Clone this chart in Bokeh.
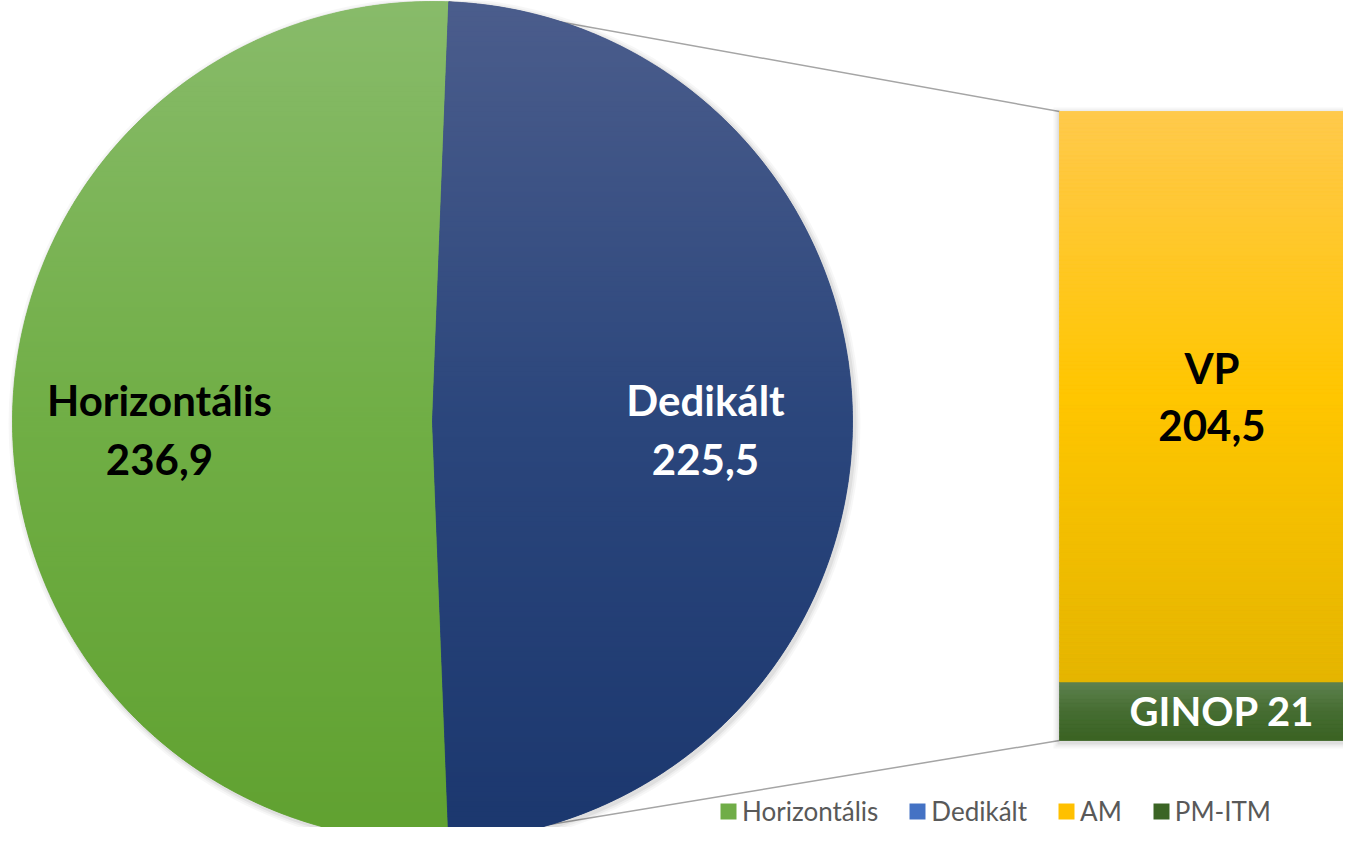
import numpy as np
from bokeh.plotting import figure
from bokeh.models import Range1d, Legend, LegendItem
from bokeh.core.properties import value
from bokeh.embed import file_html
from bokeh.resources import INLINE

# ---------------- data ----------------
pie_labels = ["Horizontális", "Dedikált"]
pie_values = [236.9, 225.5]
bar_labels = ["GINOP", "VP"]          # stacked bottom -> top (breakdown of "Dedikált")
bar_values = [21.0, 204.5]
legend_labels = ["Horizontális", "Dedikált", "AM", "PM-ITM"]

# ---------------- styles ----------------
pie_grad = [
    [(0.0, "#88bb6a"), (0.5, "#70ae45"), (1.0, "#60a130")],   # green
    [(0.0, "#4b5d8c"), (0.5, "#2b467c"), (1.0, "#1b376e")],   # navy
]
bar_grad = [
    [(0.0, "#5e824f"), (0.5, "#466d32"), (1.0, "#3a6222")],   # dark green
    [(0.0, "#ffc94d"), (0.5, "#ffc600"), (1.0, "#e4b500")],   # gold
]
pie_text_colors = ["#000000", "#ffffff"]
bar_text_colors = ["#ffffff", "#000000"]
legend_colors = ["#70ad47", "#4472c4", "#ffc000", "#3b6424"]
FONT = "Lato"


def hex2rgb(h):
    h = h.lstrip("#")
    return np.array([int(h[i:i + 2], 16) for i in (0, 2, 4)], dtype=float)


def grad_color(stops, t):
    t = min(max(t, 0.0), 1.0)
    for (p0, c0), (p1, c1) in zip(stops[:-1], stops[1:]):
        if t <= p1:
            f = 0.0 if p1 == p0 else (t - p0) / (p1 - p0)
            c = hex2rgb(c0) * (1 - f) + hex2rgb(c1) * f
            return "#%02x%02x%02x" % tuple(int(round(v)) for v in c)
    return stops[-1][1]


def fmt(v):
    s = f"{v:.1f}".replace(".", ",")
    return s[:-2] if s.endswith(",0") else s


def _inter(a, b, k):
    t = (k - a[1]) / (b[1] - a[1])
    return (a[0] + t * (b[0] - a[0]), k)


def clip_half(pts, k, keep_above):
    out = []
    n = len(pts)
    for i in range(n):
        cur, prev = pts[i], pts[i - 1]
        cin = cur[1] >= k if keep_above else cur[1] <= k
        pin = prev[1] >= k if keep_above else prev[1] <= k
        if cin:
            if not pin:
                out.append(_inter(prev, cur, k))
            out.append(cur)
        elif pin:
            out.append(_inter(prev, cur, k))
    return out


# ---------------- figure (data units = picture pixels, y up) ----------------
W, H = 1343, 827
p = figure(width=W, height=H, x_range=Range1d(0, W), y_range=Range1d(843 - H, 843),
           output_backend="svg", toolbar_location=None, min_border=0,
           x_axis_location=None, y_axis_location=None)
p.grid.visible = False
p.outline_line_color = None
p.background_fill_color = "white"
p.border_fill_color = "white"

# pie geometry
cx, cy, R = 432.0, 422.0, 420.0
total = sum(pie_values)
half = np.pi * pie_values[1] / total        # "Dedikált" centred towards the bar
angles = [(half, 2 * np.pi - half), (-half, half)]

# bar geometry
bar_left, bar_right = 1059.0, 1372.0
bar_base, bar_h = 103.0, 629.0
scale = bar_h / sum(bar_values)
tops = bar_base + np.cumsum(bar_values) * scale
bottoms = tops - np.array(bar_values) * scale

# connector lines (drawn below the pie)
p.segment(x0=[cx + R * np.cos(half), cx + R * np.cos(-half)],
          y0=[cy + R * np.sin(half), cy + R * np.sin(-half)],
          x1=[bar_left, bar_left], y1=[tops[-1], bottoms[0]],
          line_color="#a5a5a5", line_width=1.5)

# soft shadows
for dr, a in [(6, 0.03), (4, 0.04), (2, 0.06)]:
    p.circle(x=[cx + 2], y=[cy - 2], radius=R + dr, fill_color="black", fill_alpha=a, line_color=None)
    p.quad(left=[bar_left - dr], right=[bar_right], top=[tops[-1] + dr - 2], bottom=[bar_base - dr - 2],
           fill_color="black", fill_alpha=a, line_color=None)

# pie slices: base wedges + vertical gradient strips
for i, (a0, a1) in enumerate(angles):
    p.wedge(x=[cx], y=[cy], radius=R, start_angle=a0, end_angle=a1,
            fill_color=grad_color(pie_grad[i], 0.5), line_color=None)
    th = np.linspace(a0, a1, 400)
    poly = [(cx, cy)] + list(zip(cx + R * np.cos(th), cy + R * np.sin(th)))
    xs, ys, cols = [], [], []
    step = 5.0
    edges = np.arange(cy - R, cy + R + step, step)
    for lo, hi in zip(edges[:-1], edges[1:]):
        band = clip_half(clip_half(poly, lo, True), hi, False)
        if len(band) < 3:
            continue
        xs.append([q[0] for q in band])
        ys.append([q[1] for q in band])
        t = (cy + R - (lo + hi) / 2) / (2 * R)
        cols.append(grad_color(pie_grad[i], t))
    p.patches(xs=xs, ys=ys, fill_color=cols, line_color=cols, line_width=0.8)

# bar segments: base quads + gradient strips
for i in range(len(bar_values)):
    p.quad(left=[bar_left], right=[bar_right], top=[tops[i]], bottom=[bottoms[i]],
           fill_color=grad_color(bar_grad[i], 0.5), line_color=None)
    edges = np.linspace(bottoms[i], tops[i], max(int((tops[i] - bottoms[i]) / 4), 2) + 1)
    cols = [grad_color(bar_grad[i], (tops[i] - (lo + hi) / 2) / (tops[i] - bottoms[i]))
            for lo, hi in zip(edges[:-1], edges[1:])]
    p.quad(left=bar_left, right=bar_right, bottom=edges[:-1], top=edges[1:],
           fill_color=cols, line_color=cols, line_width=0.6)

# labels
lab = dict(text_font=value(FONT), text_font_style="bold", text_font_size="42px",
           text_align="center", text_baseline="middle")
for i, (a0, a1) in enumerate(angles):
    mid = (a0 + a1) / 2
    lx = cx + 0.65 * R * np.cos(mid)
    ly = cy + 0.65 * R * np.sin(mid) - 8
    p.text(x=[lx, lx], y=[ly + 30, ly - 30], text=[pie_labels[i], fmt(pie_values[i])],
           text_color=pie_text_colors[i], **lab)

bx = (bar_left + bar_right) / 2 - 4
for i in range(len(bar_values)):
    my = (tops[i] + bottoms[i]) / 2
    if tops[i] - bottoms[i] > 120:
        p.text(x=[bx, bx], y=[my + 29, my - 29], text=[bar_labels[i], fmt(bar_values[i])],
               text_color=bar_text_colors[i], **lab)
    else:
        p.text(x=[bx + 10], y=[my], text=[f"{bar_labels[i]} {fmt(bar_values[i])}"],
               text_color=bar_text_colors[i], text_font=value(FONT), text_font_style="bold",
               text_font_size="40px", text_align="center", text_baseline="middle")

# legend (swatch renderers sit outside the visible range)
items = []
for lbl, col in zip(legend_labels, legend_colors):
    r = p.quad(left=[-60], right=[-50], top=[-50], bottom=[-60], fill_color=col, line_color=None)
    items.append(LegendItem(label=lbl, renderers=[r]))
legend = Legend(items=items, orientation="horizontal", location=(718, 0),
                glyph_width=20, glyph_height=20, label_standoff=4, spacing=29,
                padding=0, margin=0, border_line_color=None, background_fill_alpha=0,
                label_text_font=FONT, label_text_font_size="26px", label_text_color="#595959")
p.add_layout(legend)

open("out.html", "w").write(file_html(p, INLINE))
